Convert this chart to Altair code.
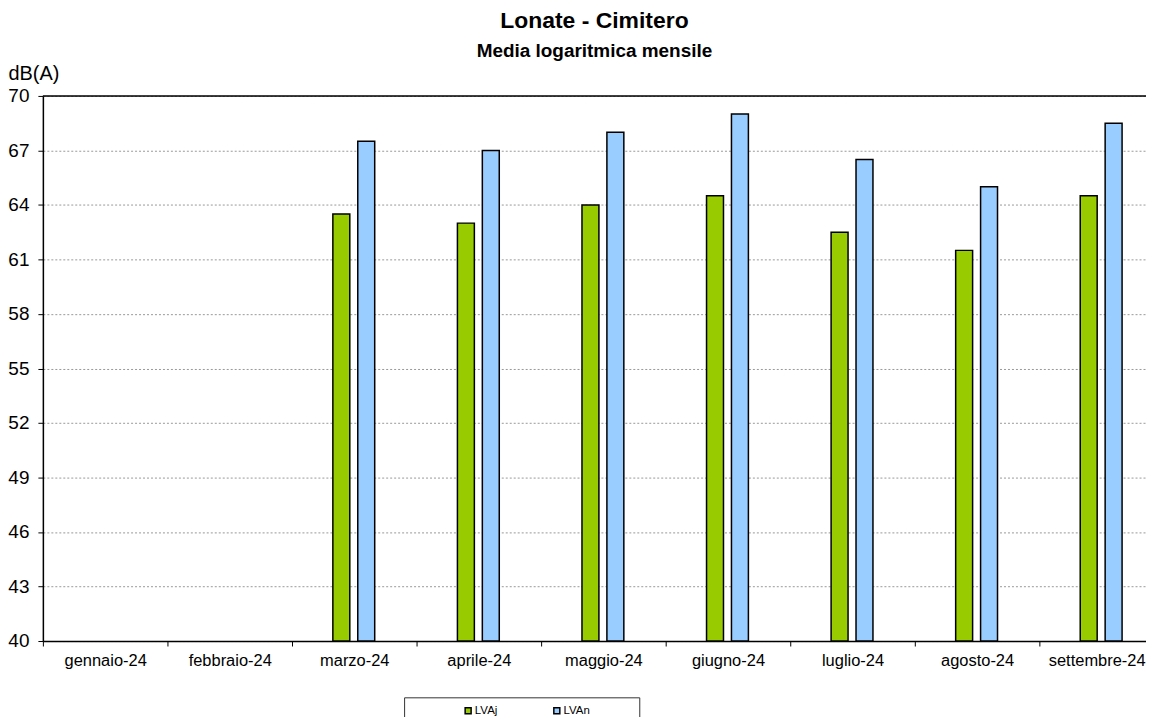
import altair as alt
import pandas as pd

months = ["gennaio-24", "febbraio-24", "marzo-24", "aprile-24", "maggio-24",
          "giugno-24", "luglio-24", "agosto-24", "settembre-24"]
lvaj = [None, None, 63.5, 63.0, 64.0, 64.5, 62.5, 61.5, 64.5]
lvan = [None, None, 67.5, 67.0, 68.0, 69.0, 66.5, 65.0, 68.5]
series = ["LVAj", "LVAn"]
colors = ["#99CC00", "#99CCFF"]
y_ticks = [40, 43, 46, 49, 52, 55, 58, 61, 64, 67, 70]

rows = []
for m, a, b in zip(months, lvaj, lvan):
    rows.append({"mese": m, "serie": "LVAj", "valore": a})
    rows.append({"mese": m, "serie": "LVAn", "valore": b})
df = pd.DataFrame(rows)

FONT = "Liberation Sans"

last_label_shift = {"condition": {"test": "datum.value === 'settembre-24'", "value": -5},
                    "value": 0}

bars = alt.Chart(df).mark_bar(stroke="black", strokeWidth=1.5).encode(
    x=alt.X("mese:N", sort=months,
            scale=alt.Scale(domain=months, paddingInner=0, paddingOuter=0, range=[0, 1125]),
            axis=alt.Axis(title=None, labelAngle=0, tickBand="extent", grid=False,
                          labelFontSize=16.5, labelFont=FONT, labelColor="black",
                          labelOffset=last_label_shift,
                          labelPadding=7, tickSize=5, tickColor="black",
                          domainColor="black", domainWidth=1.5, tickWidth=1)),
    xOffset=alt.XOffset("serie:N", sort=series,
                        scale=alt.Scale(domain=series, paddingInner=0.32, paddingOuter=0,
                                        range=[41, 83])),
    y=alt.Y("valore:Q",
            scale=alt.Scale(domain=[40, 70], nice=False, zero=False, clamp=True),
            axis=alt.Axis(values=y_ticks, title="dB(A)", titleAngle=0,
                          titleX=-35, titleY=-22, titleAlign="left", titleBaseline="middle",
                          titleFontSize=20, titleFontWeight="normal", titleFont=FONT,
                          titleColor="black",
                          labelFontSize=19, labelFont=FONT, labelColor="black",
                          labelPadding=9, tickSize=5, tickColor="black",
                          domainColor="black", domainWidth=1.5,
                          gridColor="#999999", gridDash=[2, 2], gridWidth=1)),
    color=alt.Color("serie:N", sort=series,
                    scale=alt.Scale(domain=series, range=colors),
                    legend=alt.Legend(title=None, orient="none", direction="horizontal",
                                      legendX=421, legendY=611,
                                      symbolType="square", symbolSize=36,
                                      symbolStrokeColor="black", symbolStrokeWidth=1.5,
                                      labelFontSize=11.5, labelFont=FONT, labelColor="black",
                                      labelOffset=1, columnPadding=52)),
)

top_rule = alt.Chart(pd.DataFrame({"v": [70]})).mark_rule(
    color="black", strokeWidth=1.5).encode(y="v:Q")

legend_box = alt.Chart(pd.DataFrame({"d": [0]})).mark_rect(
    fill="white", stroke="#333333", strokeWidth=1).encode(
    x=alt.value(363), x2=alt.value(599), y=alt.value(604), y2=alt.value(680))

chart = alt.layer(legend_box, bars, top_rule).properties(
    width=1107, height=547,
    title=alt.Title("Lonate - Cimitero", subtitle="Media logaritmica mensile",
                    font=FONT, fontSize=23, fontWeight="bold", color="black",
                    subtitleFont=FONT, subtitleFontSize=19, subtitleFontWeight="bold",
                    subtitleColor="black", subtitlePadding=9, anchor="middle",
                    frame="group", offset=3),
    autosize=alt.AutoSizeParams(type="none"),
    padding={"left": 35, "top": 87, "right": 0, "bottom": 75},
).configure_view(stroke=None).configure(background="white")

chart.save("out.html", embed_options={"renderer": "svg", "actions": False})
